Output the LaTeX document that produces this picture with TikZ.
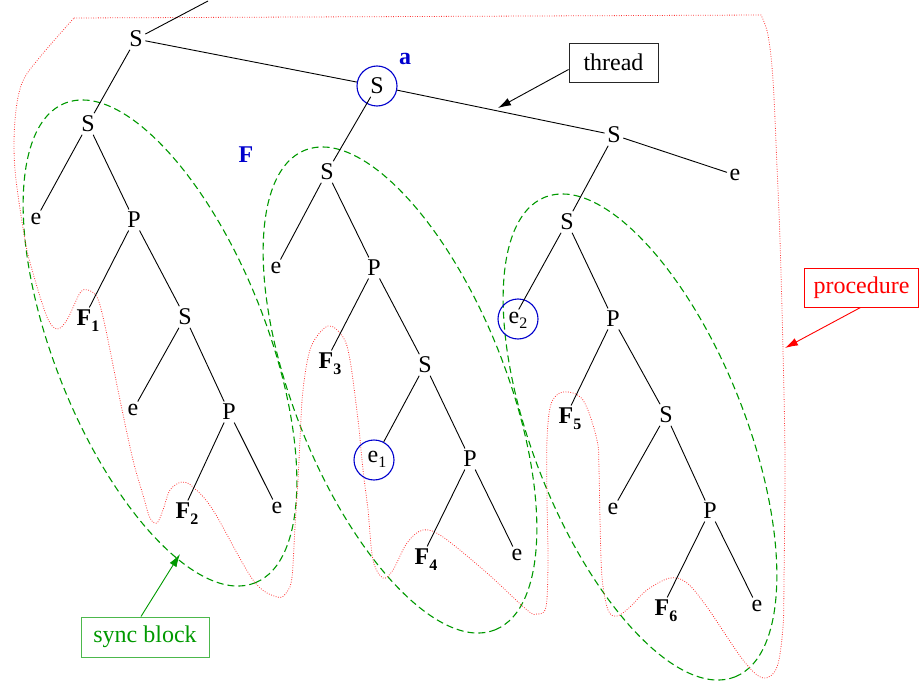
\documentclass[tikz,border=0pt]{standalone}
\usepackage{fontspec}
\setmainfont{Liberation Serif}
\usetikzlibrary{arrows.meta}
\definecolor{mygreen}{RGB}{0,153,0}
\definecolor{myblue}{RGB}{0,0,205}
\newcommand{\Fsub}[1]{\textbf{F}\rlap{\smash{\raisebox{-6pt}{\fontsize{16}{16}\selectfont\bfseries #1}}}}
\newcommand{\esub}[1]{e\rlap{\smash{\raisebox{-5pt}{\fontsize{16}{16}\selectfont #1}}}}
\begin{document}
\begin{tikzpicture}[x=1pt,y=-1pt,
 lbl/.style={inner sep=2.5pt, font=\fontsize{24}{28}\selectfont},
 edge/.style={line width=0.9pt},
 circ/.style={circle, draw=myblue, line width=1.1pt, minimum size=40pt, inner sep=0pt},
 sblock/.style={draw=mygreen, dash pattern=on 7pt off 4pt, line width=1.1pt},
 proc/.style={draw=red!80, line width=0.8pt, dash pattern=on 0.8pt off 1.6pt},
 ]
\useasboundingbox (0,0) rectangle (919,685);

% sync block ellipses
\draw[sblock, rotate around={-68.4:(160,343)}] (160,343) ellipse [x radius=258pt, y radius=106pt];
\draw[sblock, rotate around={-68.4:(400,390)}] (400,390) ellipse [x radius=258pt, y radius=106pt];
\draw[sblock, rotate around={-68.4:(640,437)}] (640,437) ellipse [x radius=258pt, y radius=106pt];

% procedure outline
\draw[proc] (74,18) -- (761,15) -- plot[smooth, tension=0.55] coordinates {
(761,15) (768,35) (773,80) (777,167) (780,240) (783,350) (785,460) (784,580) (783,627) (777,667) (763,678) (743,660) (707,607) (687,583) (670,578) (647,590) (630,607) (617,616) (608,610) (602,577) (600,520) (599,470) (597,440) (583,400) (563,392) (551,404) (547,440) (547,500) (548,560) (546,607) (537,614) (527,610) (487,573) (443,537) (423,530) (407,543) (393,570) (383,578) (373,560) (368,510) (363,470) (358,420) (350,360) (343,337) (328,326) (311,347) (303,390) (300,440) (298,480) (295,527) (292,577) (287,592) (277,597) (253,580) (213,510) (193,487) (182,482) (170,490) (163,510) (157,523) (150,518) (143,495) (133,460) (120,400) (110,350) (103,317) (97,297) (88,290) (80,293) (67,320) (57,329) (47,317) (33,273) (25,240) (15,170) (15,120) (22,83) (40,57) (74,18)};

% thread
\node[lbl] (S0) at (136,39) {S};
\coordinate (T0) at (208,1);
\node[lbl] (Sa) at (377,86) {S};
\node[circ] (Sac) at (377,86) {};
\node[lbl, text=myblue] (la) at (405,59) {\textbf{a}};
\node[lbl, text=myblue] (lF) at (246,155) {\textbf{F}};
\node[lbl] (Sr) at (614,135) {S};
\node[lbl] (er) at (735,175) {e};

% left tree
\node[lbl] (A1) at (88,124) {S};
\node[lbl] (A2) at (36,219) {e};
\node[lbl] (A3) at (134,220) {P};
\node[lbl] (A4) at (84,318) {\Fsub{1}};
\node[lbl] (A5) at (185,317) {S};
\node[lbl] (A6) at (133,410) {e};
\node[lbl] (A7) at (229,412) {P};
\node[lbl] (A8) at (183,511) {\Fsub{2}};
\node[lbl] (A9) at (277,508) {e};

% middle tree
\node[lbl] (B1) at (327,172) {S};
\node[lbl] (B2) at (276,268) {e};
\node[lbl] (B3) at (374,268) {P};
\node[lbl] (B4) at (326,361) {\Fsub{3}};
\node[lbl] (B5) at (425,365) {S};
\node[lbl] (B6) at (373,457) {\esub{1}};
\node[circ] (B6c) at (374,460) {};
\node[lbl] (B7) at (470,459) {P};
\node[lbl] (B8) at (422,557) {\Fsub{4}};
\node[lbl] (B9) at (517,555) {e};

% right tree
\node[lbl] (C1) at (567,222) {S};
\node[lbl] (C2) at (514,318) {\esub{2}};
\node[circ] (C2c) at (518,319) {};
\node[lbl] (C3) at (613,319) {P};
\node[lbl] (C4) at (566,416) {\Fsub{5}};
\node[lbl] (C5) at (666,415) {S};
\node[lbl] (C6) at (613,509) {e};
\node[lbl] (C7) at (710,511) {P};
\node[lbl] (C8) at (662,608) {\Fsub{6}};
\node[lbl] (C9) at (757,606) {e};

% edges
\draw[edge] (S0) -- (T0);
\draw[edge] (S0) -- (Sac);
\draw[edge] (Sac) -- (Sr);
\draw[edge] (Sr) -- (er);
\draw[edge] (S0) -- (A1);
\draw[edge] (A1) -- (A2);
\draw[edge] (A1) -- (A3);
\draw[edge] (A3) -- (A4);
\draw[edge] (A3) -- (A5);
\draw[edge] (A5) -- (A6);
\draw[edge] (A5) -- (A7);
\draw[edge] (A7) -- (A8);
\draw[edge] (A7) -- (A9);
\draw[edge] (Sa) -- (B1);
\draw[edge] (B1) -- (B2);
\draw[edge] (B1) -- (B3);
\draw[edge] (B3) -- (B4);
\draw[edge] (B3) -- (B5);
\draw[edge] (B5) -- (B6c);
\draw[edge] (B5) -- (B7);
\draw[edge] (B7) -- (B8);
\draw[edge] (B7) -- (B9);
\draw[edge] (Sr) -- (C1);
\draw[edge] (C1) -- (C2);
\draw[edge] (C1) -- (C3);
\draw[edge] (C3) -- (C4);
\draw[edge] (C3) -- (C5);
\draw[edge] (C5) -- (C6);
\draw[edge] (C5) -- (C7);
\draw[edge] (C7) -- (C8);
\draw[edge] (C7) -- (C9);

% callouts
\node[lbl, draw=black!85, line width=0.9pt, minimum width=89pt, minimum height=39pt] (thr) at (613.5,62.5) {thread};
\node[lbl, text=red, draw=red, line width=1pt, minimum width=114pt, minimum height=39pt] (prc) at (861.5,287.5) {procedure};
\node[lbl, text=mygreen, draw=mygreen!70, line width=1pt, minimum width=128pt, minimum height=40pt] (syn) at (145,637) {sync block};
\coordinate (thrtip) at (498,108);
\coordinate (prctip) at (785,348);
\coordinate (syntip) at (180,554);
\draw[line width=0.9pt, -{Latex[length=13pt,width=8pt]}] ([yshift=-7pt]thr.west) -- (thrtip);
\draw[red, line width=0.9pt, -{Latex[length=13pt,width=8pt]}] ([xshift=-1pt]prc.south) -- (prctip);
\draw[mygreen, line width=0.9pt, -{Latex[length=13pt,width=8pt]}] ([xshift=-4pt]syn.north) -- (syntip);
\end{tikzpicture}
\end{document}
